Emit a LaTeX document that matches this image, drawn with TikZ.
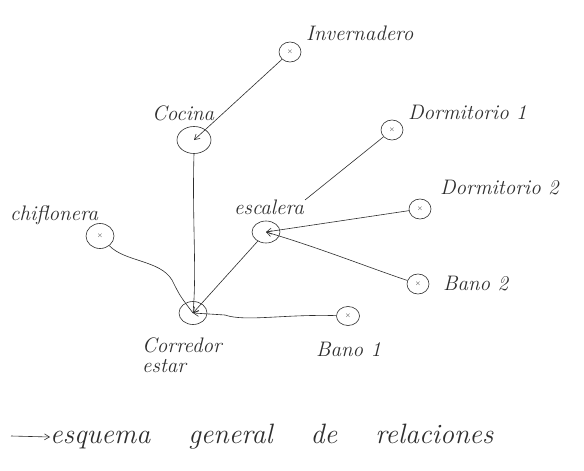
\documentclass[tikz,border=0pt]{standalone}
\usetikzlibrary{shapes.geometric,arrows.meta}
\definecolor{ink}{HTML}{2E2E2E}
\begin{document}
\begin{tikzpicture}[x=1pt,y=-1pt,
  room/.style={ellipse,draw=ink,line width=0.6pt,inner sep=0pt,minimum width=22pt,minimum height=20pt,text=ink,font=\fontsize{7}{7}\selectfont},
  lbl/.style={anchor=west,inner sep=0pt,text=ink,font=\fontsize{21}{20}\selectfont\itshape},
  link/.style={draw=ink,line width=0.6pt},
  arr/.style={link,-{Straight Barb[length=5pt,width=6pt]}}]
\fill[white] (0,0) rectangle (584,471);
\useasboundingbox (0,0) rectangle (584,471);
% rooms
\node[room] (inv) at (290,52) {$\times$};
\node[room,minimum width=34pt,minimum height=27pt] (coc) at (194,140) {};
\node[room] (d1) at (392,130) {$\times$};
\node[room] (d2) at (420,209) {$\times$};
\node[room,minimum width=28pt,minimum height=25pt] (chif) at (100,236) {$\times$};
\node[room,minimum width=28pt,minimum height=22pt] (esc) at (266,232) {};
\node[room] (b2) at (418,284) {$\times$};
\node[room,minimum width=28pt,minimum height=23pt] (cor) at (193,313) {};
\node[room,minimum width=23pt,minimum height=19pt] (b1) at (348,316) {$\times$};
% labels
\node[lbl] (linv) at (306,33) {Invernadero};
\node[lbl] (lcoc) at (152,113) {Cocina};
\node[lbl] (ld1) at (408,112) {Dormitorio 1};
\node[lbl] (ld2) at (440,188) {Dormitorio 2};
\node[lbl] (lchif) at (10,215) {chiflonera};
\node[lbl] (lesc) at (234,207) {escalera};
\node[lbl] (lb2) at (443,284) {Bano 2};
\node[lbl,anchor=north west,align=left] (lcor) at (142,338) {Corredor\\estar};
\node[lbl] (lb1) at (316,349) {Bano 1};
% connectors
\coordinate (d1end) at (305,200);
\draw[arr] (inv) -- (coc.center);
\draw[link] (coc.south) .. controls (192,220) and (197,270) .. (cor.center);
\draw[link] (chif) .. controls (125,262) and (160,260) .. (172,280) .. controls (180,296) .. (cor.center);
\draw[arr] (esc) -- (cor.center);
\draw[link] (d1) -- (d1end);
\draw[arr] (d2) -- (esc.center);
\draw[arr] (b2) .. controls (370,268) and (320,248) .. (esc.center);
\draw[arr] (b1) .. controls (285,314) and (245,322) .. (225,315) -- (cor.center);
% caption
\node[anchor=west,inner sep=0pt,text=ink,font=\fontsize{28}{30}\selectfont\itshape] (cap) at (50,437)
  {esquema\hspace{38pt}general\hspace{38pt}de\hspace{38pt}relaciones};
\coordinate (capstart) at (11,436);
\draw[arr] (capstart) -- (cap.west);
\end{tikzpicture}
\end{document}
